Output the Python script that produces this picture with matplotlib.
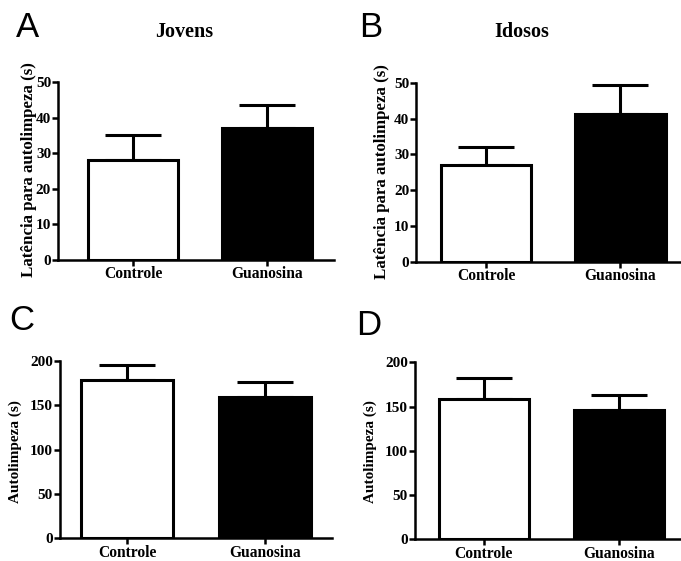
# Four bar panels (latency / duration of self-grooming), GraphPad-like style

import matplotlib.pyplot as plt

groups = ['Controle', 'Guanosina']

latency_young = [28.1, 37.0]
latency_young_err = [7.0, 6.5]
latency_old = [27.0, 41.3]
latency_old_err = [5.1, 8.0]

grooming_young = [178.5, 159.7]
grooming_young_err = [17.0, 16.6]
grooming_old = [158.2, 146.1]
grooming_old_err = [23.7, 16.6]

panel_titles = ['Jovens', 'Idosos']
latency_label = 'Latência para autolimpeza (s)'
grooming_label = 'Autolimpeza (s)'

serif = 'Liberation Serif'


def draw_panel(fig, rect, values, errors, ylabel, ymax, yticks, xlim, label_xy, label_size):
    ax = fig.add_axes(rect)
    x = range(len(groups))
    ax.bar(x, values, width=0.67, color=['white', 'black'],
           edgecolor='black', linewidth=2.2, zorder=2)
    ax.errorbar(x, values, yerr=[[0] * len(errors), errors], fmt='none',
                ecolor='black', elinewidth=2.2, capsize=20, capthick=2.2, zorder=1)
    ax.set_xlim(*xlim)
    ax.set_ylim(0, ymax)
    ax.set_yticks(yticks)
    ax.set_xticks(list(x))
    ax.set_xticklabels(groups, fontfamily=serif, fontweight='bold', fontsize=11.2)
    for lab in ax.get_yticklabels():
        lab.set_fontfamily(serif)
        lab.set_fontweight('bold')
        lab.set_fontsize(11)
    ax.set_ylabel(ylabel, fontfamily=serif, fontweight='bold', fontsize=label_size)
    ax.yaxis.set_label_coords(*label_xy)
    for side in ['top', 'right']:
        ax.spines[side].set_visible(False)
    for side in ['left', 'bottom']:
        ax.spines[side].set_linewidth(1.8)
    ax.tick_params(axis='y', direction='out', length=4, width=1.8, pad=1)
    ax.tick_params(axis='x', direction='out', length=4, width=1.8, pad=0.5)
    return ax


fig = plt.figure(figsize=(6.81, 5.61), dpi=100)

axA = draw_panel(fig, [0.0852, 0.5365, 0.405, 0.3175], latency_young, latency_young_err,
                 latency_label, 50, [0, 10, 20, 30, 40, 50], (-0.56, 1.5),
                 (-0.078, 0.506), 12.2)
axB = draw_panel(fig, [0.611, 0.5335, 0.389, 0.319], latency_old, latency_old_err,
                 latency_label, 50, [0, 10, 20, 30, 40, 50], (-0.52, 1.45),
                 (-0.1, 0.504), 12.2)
axC = draw_panel(fig, [0.0881, 0.0404, 0.4, 0.316], grooming_young, grooming_young_err,
                 grooming_label, 200, [0, 50, 100, 150, 200], (-0.49, 1.49),
                 (-0.14, 0.49), 11)
axD = draw_panel(fig, [0.6094, 0.0387, 0.391, 0.3153], grooming_old, grooming_old_err,
                 grooming_label, 200, [0, 50, 100, 150, 200], (-0.51, 1.46),
                 (-0.143, 0.496), 11)

fig.text(184 / 681, 1 - 37 / 561, panel_titles[0], ha='center', va='baseline',
         fontfamily=serif, fontweight='bold', fontsize=14.5)
fig.text(522 / 681, 1 - 37 / 561, panel_titles[1], ha='center', va='baseline',
         fontfamily=serif, fontweight='bold', fontsize=14.5)

for letter, (px, py) in zip('ABCD', [(16, 37), (359, 37), (9, 330), (356, 335)]):
    fig.text(px / 681, 1 - py / 561, letter, ha='left', va='baseline',
             fontfamily='Liberation Sans', fontsize=25)

plt.savefig('out.png', dpi=100)
